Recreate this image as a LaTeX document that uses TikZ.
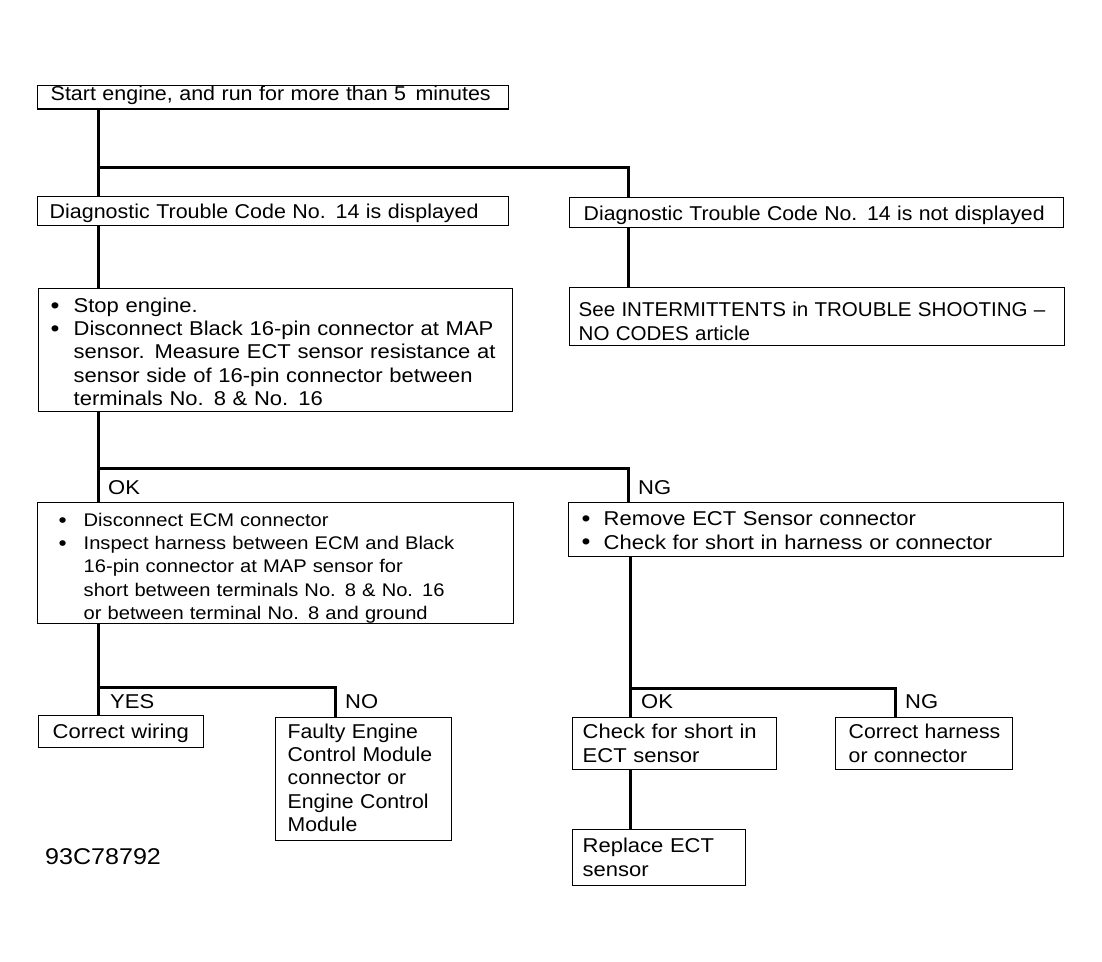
\documentclass[tikz,border=0pt]{standalone}
\usepackage{fontspec}
\usepackage{graphicx}
\setmainfont{Liberation Sans}[FakeStretch=1.1]
\begin{document}
\begin{tikzpicture}[x=1pt,y=-1pt,
  box/.style={draw=black,line width=1.4pt,anchor=north west,align=left,inner ysep=0pt,font=\fontsize{20}{23.3}\selectfont},
  conn/.style={draw=black,line width=3pt},
  lbl/.style={anchor=west,inner sep=0pt,font=\fontsize{20}{23.3}\selectfont}]
\useasboundingbox (0,0) rectangle (1102,961);
\newcommand{\bul}[1]{\makebox[#1][l]{\raisebox{-0.8pt}{\scalebox{1.15}{\textbullet}}}}
\newcommand{\lns}[2][0pt]{\raisebox{-#1}[\height][\depth]{\begin{tabular}{@{}l@{}}#2\end{tabular}}}
\newcommand{\hs}[2]{\scalebox{#1}[1]{#2}}
% boxes
\node[box,minimum width=471pt,minimum height=22pt,inner xsep=13pt,text width=445pt] (start) at (37,85) {\lns[-2pt]{\hs{0.975}{Start engine, and run for more than 5\hspace{3pt} minutes}}};
\node[box,minimum width=471pt,minimum height=29pt,inner xsep=12pt,text width=447pt] (dtc) at (37,196) {\lns[3pt]{\hs{0.975}{Diagnostic Trouble Code No. 14 is displayed}}};
\node[box,minimum width=494pt,minimum height=30pt,inner xsep=14pt,text width=466pt] (ndtc) at (569,197) {\lns[3pt]{\hs{0.966}{Diagnostic Trouble Code No. 14 is not displayed}}};
\node[box,minimum width=495pt,minimum height=58pt,inner xsep=9pt,text width=477pt] (inter) at (569,287) {\lns[7pt]{\hs{0.935}{See INTERMITTENTS in TROUBLE SHOOTING --}\\\hs{0.935}{NO CODES article}}};
\node[box,minimum width=474pt,minimum height=123pt,inner xsep=12pt,text width=450pt] (stop) at (38,288) {\lns[4pt]{\bul{23pt}Stop engine.\\\bul{23pt}Disconnect Black 16-pin connector at MAP\\\hspace*{23pt}sensor. Measure ECT sensor resistance at\\\hspace*{23pt}sensor side of 16-pin connector between\\\hspace*{23pt}terminals No. 8 \& No. 16}};
\node[box,minimum width=476pt,minimum height=121pt,inner xsep=21pt,text width=434pt,font=\fontsize{18.3}{23.2}\selectfont] (ecm) at (37,502) {\lns[5pt]{\bul{25pt}Disconnect ECM connector\\\bul{25pt}Inspect harness between ECM and Black\\\hspace*{25pt}16-pin connector at MAP sensor for\\\hspace*{25pt}short between terminals No. 8 \& No. 16\\\hspace*{25pt}or between terminal No. 8 and ground}};
\node[box,minimum width=495pt,minimum height=54pt,inner xsep=13pt,text width=469pt] (remove) at (568,502) {\lns[3pt]{\bul{22pt}Remove ECT Sensor connector\\\bul{22pt}Check for short in harness or connector}};
\node[box,minimum width=165pt,minimum height=32pt,inner xsep=14pt,text width=137pt] (corr) at (38,715) {\lns[2pt]{Correct wiring}};
\node[box,minimum width=176pt,minimum height=123pt,inner xsep=12pt,text width=152pt] (faulty) at (275,717) {\lns[1pt]{\hs{0.965}{Faulty Engine}\\\hs{0.965}{Control Module}\\\hs{0.965}{connector or}\\\hs{0.965}{Engine Control}\\\hs{0.965}{Module}}};
\node[box,minimum width=204pt,minimum height=52pt,inner xsep=10pt,text width=184pt] (check) at (572,717) {\lns[2pt]{Check for short in\\ECT sensor}};
\node[box,minimum width=177pt,minimum height=52pt,inner xsep=13pt,text width=151pt] (harness) at (835,717) {\lns[2pt]{\hs{0.965}{Correct harness}\\\hs{0.965}{or connector}}};
\node[box,minimum width=173pt,minimum height=56pt,inner xsep=10pt,text width=153pt] (replace) at (572,829) {\lns[2pt]{Replace ECT\\sensor}};
% labels
\node[lbl] (lok1) at (108,488) {OK};
\node[lbl] (lng1) at (638,488) {NG};
\node[lbl] (lyes) at (110,702) {YES};
\node[lbl] (lno) at (345,702) {NO};
\node[lbl] (lok2) at (641,702) {OK};
\node[lbl] (lng2) at (905,702) {NG};
\node[lbl,font=\fontsize{22.8}{26}\selectfont] (code) at (45,857) {93C78792};
% junctions
\coordinate (L) at (98,0);
\coordinate (R) at (628,0);
\coordinate (R2) at (630,0);
\coordinate (N) at (335,0);
\coordinate (H) at (895,0);
\coordinate (j1) at (98,167);
\coordinate (j1r) at (628,167);
\coordinate (j2) at (98,468);
\coordinate (j2r) at (628,468);
\coordinate (j3) at (98,687);
\coordinate (j3r) at (335,687);
\coordinate (j4) at (630,688);
\coordinate (j4r) at (895,688);
% connectors
\draw[conn] (start.south -| L) -- (dtc.north -| L);
\draw[conn] (j1) -- (j1r) -- (ndtc.north -| R);
\draw[conn] (dtc.south -| L) -- (stop.north -| L);
\draw[conn] (ndtc.south -| R) -- (inter.north -| R);
\draw[conn] (stop.south -| L) -- (ecm.north -| L);
\draw[conn] (j2) -- (j2r) -- (remove.north -| R);
\draw[conn] (ecm.south -| L) -- (corr.north -| L);
\draw[conn] (j3) -- (j3r) -- (faulty.north -| N);
\draw[conn] (remove.south -| R2) -- (check.north -| R2);
\draw[conn] (j4) -- (j4r) -- (harness.north -| H);
\draw[conn] (check.south -| R2) -- (replace.north -| R2);
\end{tikzpicture}
\end{document}
